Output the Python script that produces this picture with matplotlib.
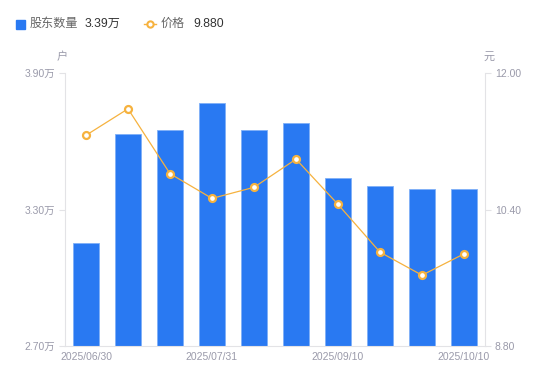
import matplotlib as mpl
mpl.use('Agg')
import matplotlib.pyplot as plt
from matplotlib.lines import Line2D
from matplotlib.patches import Rectangle
import numpy as np

# data
dates = ['2025/06/30', '2025/07/10', '2025/07/20', '2025/07/31', '2025/08/10',
         '2025/08/20', '2025/09/10', '2025/09/19', '2025/09/30', '2025/10/10']
holders = [3.153, 3.632, 3.649, 3.768, 3.649, 3.680, 3.438, 3.403, 3.390, 3.390]  # 万户
price = [11.27, 11.58, 10.82, 10.53, 10.66, 10.99, 10.46, 9.90, 9.63, 9.88]
shown_ticks = [0, 3, 6, 9]
left_ticks = [2.70, 3.30, 3.90]
right_ticks = [8.80, 10.40, 12.00]

BLUE = '#2979F2'
ORANGE = '#F6B23E'
AXIS = '#E3E3E6'
TICK = '#9A9AAA'
FONT = ['Liberation Sans', 'Noto Sans CJK SC', 'DejaVu Sans']
plt.rcParams['font.family'] = FONT

fig = plt.figure(figsize=(5.5, 3.81), dpi=100)
ax = fig.add_axes([65 / 550, 1 - 346 / 381, 420 / 550, 273 / 381])
ax2 = ax.twinx()

x = np.arange(len(dates))
ax.bar(x, holders, width=0.6, color=BLUE, edgecolor='#7FB0F7', linewidth=0.6, bottom=0)
ax.set_ylim(2.70, 3.90)
ax.set_xlim(-0.5, len(dates) - 0.5)
ax.set_yticks(left_ticks)
ax.set_yticklabels([f'{v:.2f}万' for v in left_ticks])
ax.set_xticks([x[i] for i in shown_ticks])
ax.set_xticklabels([dates[i] for i in shown_ticks])

ax2.plot(x, price, color=ORANGE, linewidth=0.9, marker='o', markersize=5,
         markerfacecolor='white', markeredgecolor=ORANGE, markeredgewidth=1.6, zorder=5)
ax2.set_ylim(8.80, 12.00)
ax2.set_yticks(right_ticks)
ax2.set_yticklabels([f'{v:.2f}' for v in right_ticks])

for a in (ax, ax2):
    for s in a.spines.values():
        s.set_visible(False)
    a.tick_params(colors=AXIS, labelcolor=TICK, labelsize=7.5, length=4, width=0.8)
ax.spines['left'].set_visible(True)
ax.spines['left'].set_color(AXIS)
ax.spines['bottom'].set_visible(True)
ax.spines['bottom'].set_color(AXIS)
ax2.spines['right'].set_visible(True)
ax2.spines['right'].set_color(AXIS)
ax.tick_params(axis='x', length=0, pad=4)
ax.tick_params(axis='y', pad=3)
ax2.tick_params(axis='y', pad=3)

# unit labels
fig.text(62 / 550, 1 - 57 / 381, '户', color=TICK, fontsize=8, ha='center', va='center')
fig.text(489 / 550, 1 - 57 / 381, '元', color=TICK, fontsize=8, ha='center', va='center')

# legend row
fig.patches.append(Rectangle((16 / 550, 1 - 29 / 381), 9 / 550, 9 / 381,
                             transform=fig.transFigure, color=BLUE, figure=fig))
fig.text(30 / 550, 1 - 24 / 381, '股东数量', color='#666666', fontsize=8.7, va='center')
fig.text(85 / 550, 1 - 24 / 381, f'{holders[-1]:.2f}万', color='#333333', fontsize=8.7, va='center')
fig.lines.append(Line2D([144 / 550, 156 / 550], [1 - 24 / 381] * 2, transform=fig.transFigure,
                        color=ORANGE, linewidth=1, marker='o', markevery=[0], markersize=0))
fig.lines.append(Line2D([150 / 550], [1 - 24 / 381], transform=fig.transFigure, color=ORANGE,
                        marker='o', markersize=4.5, markerfacecolor='white', markeredgewidth=1.5))
fig.text(161 / 550, 1 - 24 / 381, '价格', color='#666666', fontsize=8.7, va='center')
fig.text(193 / 550, 1 - 24 / 381, f'{price[-1]:.3f}', color='#333333', fontsize=8.7, va='center')

fig.savefig('out.png', dpi=100)
